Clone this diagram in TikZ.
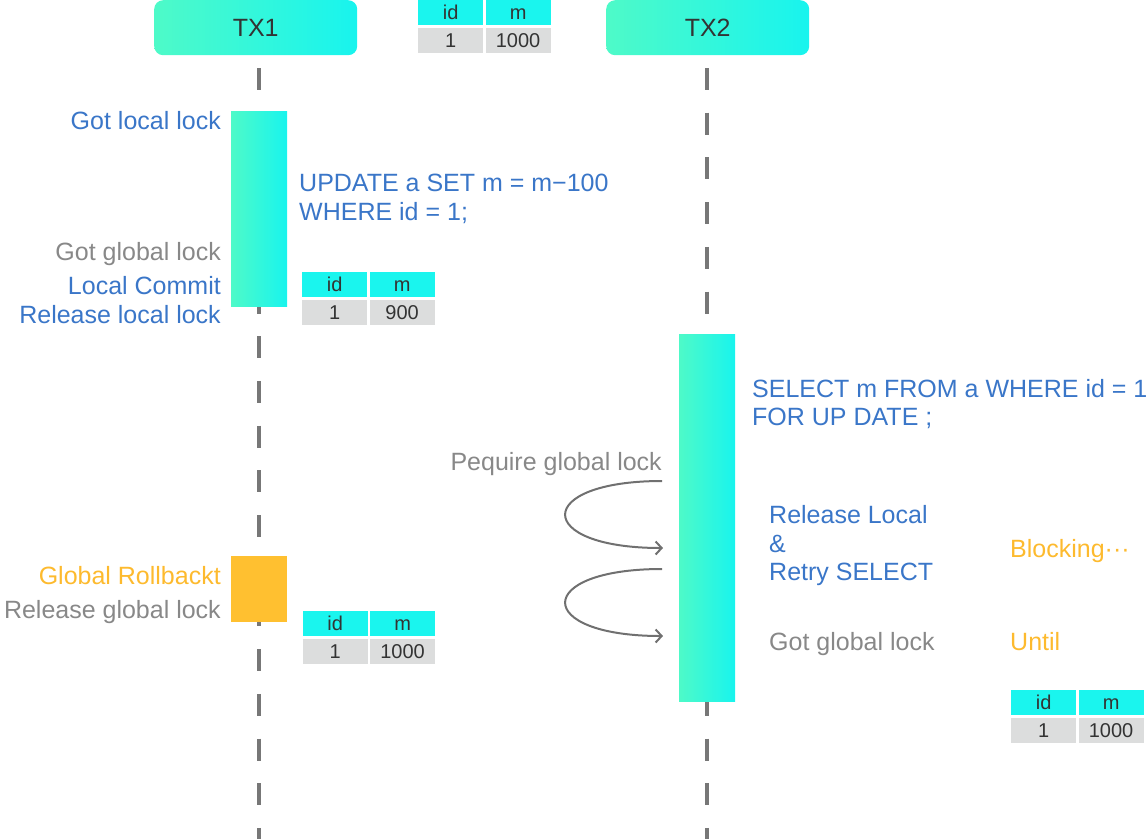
\documentclass[tikz,border=0pt]{standalone}
\usepackage{fontspec}
\setmainfont{Liberation Sans}
\usetikzlibrary{arrows.meta}
\definecolor{tealL}{RGB}{78,250,200}
\definecolor{tealR}{RGB}{24,244,238}
\definecolor{hdr}{RGB}{26,245,238}
\definecolor{rowc}{RGB}{220,221,221}
\definecolor{blu}{RGB}{58,118,200}
\definecolor{gry}{RGB}{136,136,136}
\definecolor{org}{RGB}{253,186,46}
\definecolor{orgbox}{RGB}{255,192,48}
\definecolor{linec}{RGB}{119,119,119}
\definecolor{txt}{RGB}{51,51,51}
\definecolor{arrc}{RGB}{112,112,112}
\newcommand\dbtab[4]{%
  \node[hcell,anchor=north west] (#1h1) at (#2,#3) {id};
  \node[hcell,anchor=north west] (#1h2) at ([xshift=2pt]#1h1.north east) {m};
  \node[rcell,anchor=north west] (#1r1) at ([yshift=-2pt]#1h1.south west) {1};
  \node[rcell,anchor=north west] (#1r2) at ([xshift=2pt]#1r1.north east) {#4};
}
\begin{document}
\begin{tikzpicture}[x=1pt,y=-1pt,
  big/.style={font=\fontsize{25}{30}\selectfont,inner sep=0pt},
  lbl/.style={big,anchor=base east},
  rlbl/.style={big,anchor=base west},
  cell/.style={minimum width=65pt,minimum height=25pt,inner sep=0pt,text height=13.8pt,text depth=0pt,text=txt,font=\fontsize{20}{24}\selectfont},
  hcell/.style={cell,fill=hdr},
  rcell/.style={cell,fill=rowc},
  txbox/.style={rounded corners=9pt,left color=tealL,right color=tealR,minimum width=203pt,minimum height=55pt,inner sep=0pt,text=txt,font=\fontsize{25}{30}\selectfont},
  bar/.style={left color=tealL,right color=tealR,minimum width=56pt,inner sep=0pt},
  lifeline/.style={draw=linec,line width=4pt,dash pattern=on 22pt off 22.7pt},
  loop/.style={draw=arrc,line width=2pt,-{Straight Barb[length=6pt,width=13pt,line width=2pt]}}
]
\useasboundingbox (0,0) rectangle (1148,839);
% lifelines
\coordinate (l1top) at (259,68);
\coordinate (l1bot) at (259,839);
\coordinate (l2top) at (707,68);
\coordinate (l2bot) at (707,839);
\draw[lifeline] (l1top) -- (l1bot);
\draw[lifeline] (l2top) -- (l2bot);
% headers
\node[txbox,anchor=north west] (tx1) at (154,0) {TX1};
\node[txbox,anchor=north west] (tx2) at (606,0) {TX2};
\dbtab{ta}{418}{0}{1000}
% TX1 bars
\node[bar,minimum height=195pt,anchor=north west] (bar1) at (231,111) {};
\node[fill=orgbox,minimum width=56pt,minimum height=66pt,inner sep=0pt,anchor=north west] (rb) at (231,556) {};
% TX1 labels
\node[lbl,text=blu] (gll) at (221,129) {Got local lock};
\node[lbl,text=gry] (ggl) at (221,260) {Got global lock};
\node[lbl,text=blu] (lc) at (221,294.5) {Local Commit};
\node[lbl,text=blu] (rll) at (221,323) {Release local lock};
\node[lbl,text=org] (grb) at (221,584.5) {Global Rollbackt};
\node[lbl,text=gry] (rgl) at (221,618.5) {Release global lock};
\node[rlbl,text=blu] (upd1) at (299,191) {UPDATE a SET m = m−100};
\node[rlbl,text=blu] (upd2) at (299,220) {WHERE id = 1;};
\dbtab{tb}{302}{272}{900}
\dbtab{tc}{302.5}{611}{1000}
% TX2
\node[bar,minimum height=367pt,anchor=north west] (bar2) at (679,334) {};
\node[rlbl,text=blu] (sel1) at (752,397) {SELECT m FROM a WHERE id = 1};
\node[rlbl,text=blu] (sel2) at (752,425) {FOR UP DATE ;};
\node[lbl,text=gry] (req) at (662,470) {Pequire global lock};
\node[rlbl,text=blu] (rl1) at (769,523) {Release Local};
\node[rlbl,text=blu] (rl2) at (769,552) {\&};
\node[rlbl,text=blu] (rl3) at (769,580) {Retry SELECT};
\node[rlbl,text=org] (blk) at (1010,557) {Blocking···};
\node[rlbl,text=gry] (ggl2) at (769,650) {Got global lock};
\node[rlbl,text=org] (until) at (1010,650) {Until};
\dbtab{td}{1011}{690}{1000}
% retry loops
\coordinate (a1s) at (662,481);
\coordinate (a1e) at (663,548);
\coordinate (a2s) at (662,569);
\coordinate (a2e) at (663,636);
\draw[loop] (a1s) .. controls (533,481) and (533,548) .. (a1e);
\draw[loop] (a2s) .. controls (533,569) and (533,636) .. (a2e);
\end{tikzpicture}
\end{document}
